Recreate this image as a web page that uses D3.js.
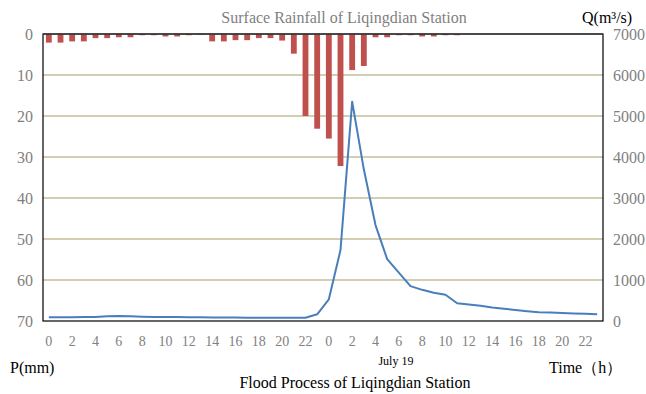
<!DOCTYPE html>
<html>
<head>
<meta charset="utf-8">
<script src="https://cdn.jsdelivr.net/npm/d3@7"></script>
<style>
  body { margin: 0; background: #fff; }
  svg { display: block; font-family: "Liberation Serif", "Times New Roman", serif; }
</style>
</head>
<body>
<div id="chart"></div>
<script>
// hours of the two days (July 18 / July 19)
var hourLabels = [0,1,2,3,4,5,6,7,8,9,10,11,12,13,14,15,16,17,18,19,20,21,22,23];
var days = ["July 18", "July 19"];

// hourly rainfall P (mm)
var rainDay1 = [2.1, 2.1, 1.8, 1.8, 1.0, 1.0, 0.8, 0.8, 0.3, 0.3, 0.6, 0.6,
                0.3, 0.2, 1.8, 1.8, 1.5, 1.5, 1.0, 1.0, 1.6, 4.8, 20.0, 23.1];
var rainDay2 = [25.5, 32.2, 8.8, 7.8, 0.8, 0.8, 0.3, 0.3, 0.6, 0.6, 0.3, 0.3,
                0, 0, 0, 0, 0, 0, 0, 0, 0, 0, 0, 0];

// discharge Q (m3/s)
var flowDay1 = [90, 90, 90, 95, 100, 115, 120, 115, 105, 100, 100, 95,
                90, 90, 85, 85, 85, 80, 80, 80, 80, 80, 80, 163];
var flowDay2 = [530, 1730, 5350, 3700, 2340, 1510, 1180, 850, 760, 690, 640, 432,
                400, 370, 330, 300, 270, 240, 215, 205, 195, 185, 175, 165];

var rainTicks = [0, 10, 20, 30, 40, 50, 60, 70];
var flowTicks = [0, 1000, 2000, 3000, 4000, 5000, 6000, 7000];

var data = [];
days.forEach(function(day, di) {
  hourLabels.forEach(function(h, hi) {
    data.push({
      i: di * 24 + hi,
      hour: h,
      day: day,
      P: di == 0 ? rainDay1[hi] : rainDay2[hi],
      Q: di == 0 ? flowDay1[hi] : flowDay2[hi]
    });
  });
});

var W = 646, H = 394;
var margin = {top: 34, right: 43, bottom: 73, left: 43},
    width = W - margin.left - margin.right,
    height = H - margin.top - margin.bottom;

var svg = d3.select("#chart").append("svg")
    .attr("width", W)
    .attr("height", H);

var g = svg.append("g")
    .attr("transform", "translate(" + margin.left + "," + margin.top + ")");

// scales
var x = d3.scaleBand()
    .domain(data.map(function(d) { return d.i; }))
    .range([0, width])
    .paddingInner(0.5)
    .paddingOuter(0.25);
var yP = d3.scaleLinear().domain([0, 70]).range([0, height]);
var yQ = d3.scaleLinear().domain([0, 7000]).range([height, 0]);

// gridlines
g.selectAll(".grid")
    .data(rainTicks.filter(function(t) { return t > 0 && t < 70; }))
  .enter().append("line")
    .attr("x1", 0)
    .attr("x2", width)
    .attr("y1", function(d) { return yP(d); })
    .attr("y2", function(d) { return yP(d); })
    .attr("stroke", "#c4bd97")
    .attr("stroke-width", 1.5);

// rainfall bars hanging from the top
g.selectAll(".bar")
    .data(data)
  .enter().append("rect")
    .attr("x", function(d) { return x(d.i); })
    .attr("y", 0)
    .attr("width", x.bandwidth())
    .attr("height", function(d) { return yP(d.P); })
    .attr("fill", "#c0504d");

// discharge line
var line = d3.line()
    .x(function(d) { return x(d.i) + x.bandwidth() / 2; })
    .y(function(d) { return yQ(d.Q); });

g.append("path")
    .datum(data)
    .attr("d", line)
    .attr("fill", "none")
    .attr("stroke", "#4a7ebb")
    .attr("stroke-width", 2)
    .attr("stroke-linejoin", "round");

// plot frame
g.append("rect")
    .attr("width", width)
    .attr("height", height)
    .attr("fill", "none")
    .attr("stroke", "#000")
    .attr("stroke-width", 1.2);
g.append("line")
    .attr("x1", 0).attr("x2", width)
    .attr("y1", 0).attr("y2", 0)
    .attr("stroke", "#404040")
    .attr("stroke-width", 1.6);

// axes
var axL = g.append("g")
    .call(d3.axisLeft(yP).tickValues(rainTicks).tickSize(0).tickPadding(10));
var axR = g.append("g")
    .attr("transform", "translate(" + width + ",0)")
    .call(d3.axisRight(yQ).tickValues(flowTicks).tickFormat(d3.format("d"))
      .tickSize(0).tickPadding(10));
var axB = g.append("g")
    .attr("transform", "translate(0," + height + ")")
    .call(d3.axisBottom(x)
      .tickValues(data.filter(function(d) { return d.hour % 2 == 0; }).map(function(d) { return d.i; }))
      .tickFormat(function(i) { return data[i].hour; })
      .tickSize(0).tickPadding(15.5));

[axL, axR, axB].forEach(function(a) {
  a.attr("font-family", null);
  a.select(".domain").remove();
  a.selectAll("text")
    .attr("fill", "#7f7f7f")
    .style("font-family", "Liberation Serif");
});
axL.selectAll("text").style("font-size", "16px");
axR.selectAll("text").style("font-size", "16px");
axB.selectAll("text").style("font-size", "14px");

// titles and labels
svg.append("text")
    .attr("x", 344)
    .attr("y", 23)
    .attr("text-anchor", "middle")
    .attr("fill", "#7f7f7f")
    .style("font-size", "16px")
    .text("Surface Rainfall of Liqingdian Station");

svg.append("text")
    .attr("x", 582)
    .attr("y", 23)
    .attr("fill", "#000")
    .style("font-size", "16px")
    .text("Q(m³/s)");

svg.append("text")
    .attr("x", 10)
    .attr("y", 373)
    .attr("fill", "#000")
    .style("font-size", "16px")
    .text("P(mm)");

svg.append("text")
    .attr("x", 549)
    .attr("y", 373)
    .attr("fill", "#000")
    .style("font-size", "16px")
    .text("Time（h）");

svg.append("text")
    .attr("x", margin.left + x(30))
    .attr("y", 365)
    .attr("text-anchor", "middle")
    .attr("fill", "#000")
    .style("font-size", "12px")
    .text(days[1]);

svg.append("text")
    .attr("x", 355)
    .attr("y", 388)
    .attr("text-anchor", "middle")
    .attr("fill", "#000")
    .style("font-size", "16px")
    .text("Flood Process of Liqingdian Station");
</script>
</body>
</html>
